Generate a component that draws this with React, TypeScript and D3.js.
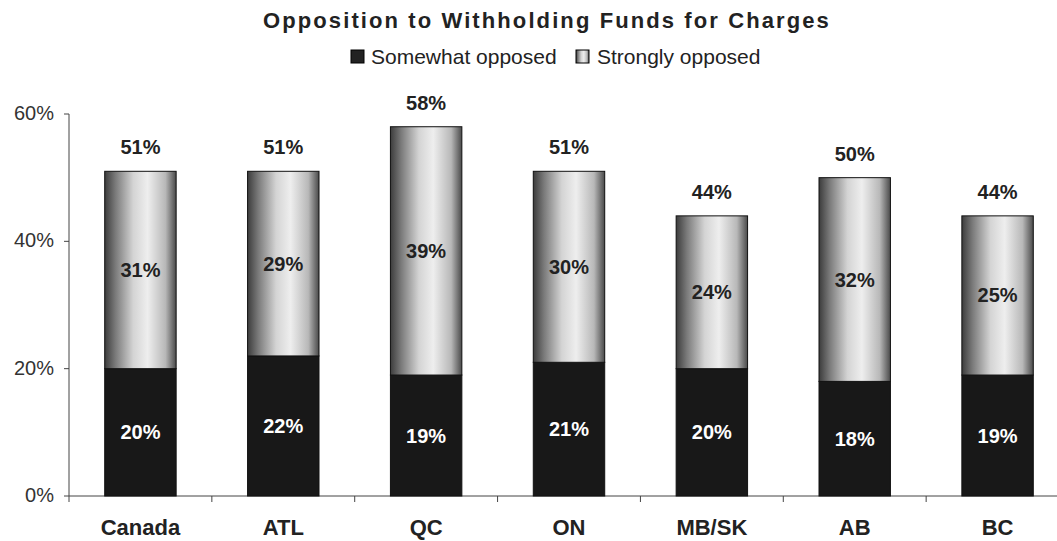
import { scaleBand, scaleLinear, stack } from "d3";

const width = 1057;
const height = 541;

const regions = ["Canada", "ATL", "QC", "ON", "MB/SK", "AB", "BC"];
const somewhat = [20, 22, 19, 21, 20, 18, 19];
const strongly = [31, 29, 39, 30, 24, 32, 25];
const yTicks = [0, 20, 40, 60];
const seriesNames = ["Somewhat opposed", "Strongly opposed"];

const margin = { left: 69, top: 114, bottom: 45 };

export default function App() {
  const rows = regions.map((r, i) => ({ region: r, somewhat: somewhat[i], strongly: strongly[i] }));
  const layers = stack<any>().keys(["somewhat", "strongly"])(rows);

  const xScale = scaleBand()
    .domain(regions)
    .range([margin.left, margin.left + 1000])
    .paddingInner(0.5)
    .paddingOuter(0.25);

  const yScale = scaleLinear()
    .domain([0, 60])
    .range([height - margin.bottom, margin.top]);

  const y0 = yScale(0);
  const bw = xScale.bandwidth();
  const step = xScale.step();

  return (
    <svg width={width} height={height} style={{ position: "absolute", left: 0, top: 0, background: "#fff" }}
      fontFamily="Arial, 'Liberation Sans', sans-serif">
      <defs>
        <linearGradient id="lightGrad" x1="0" x2="1" y1="0" y2="0">
          <stop offset="0%" stopColor="#3c3c3c" />
          <stop offset="15%" stopColor="#7a7a7a" />
          <stop offset="40%" stopColor="#d4d4d4" />
          <stop offset="60%" stopColor="#eeeeee" />
          <stop offset="85%" stopColor="#b8b8b8" />
          <stop offset="100%" stopColor="#4a4a4a" />
        </linearGradient>
      </defs>

      {/* title + legend */}
      <text x={263} y={28} fontSize={22} fontWeight="bold" letterSpacing={2.1} fill="#222">
        Opposition to Withholding Funds for Charges
      </text>
      <rect x={351} y={50} width={13} height={13} fill="#222" stroke="#000" />
      <text x={371} y={64} fontSize={21} fill="#222">{seriesNames[0]}</text>
      <rect x={576} y={50} width={13} height={13} fill="url(#lightGrad)" stroke="#000" />
      <text x={597} y={64} fontSize={21} fill="#222">{seriesNames[1]}</text>

      {/* axes */}
      <line x1={margin.left} x2={margin.left} y1={yScale(60)} y2={y0} stroke="#444" />
      <line x1={margin.left} x2={width} y1={y0} y2={y0} stroke="#444" />
      {yTicks.map((t) => (
        <g key={t}>
          <line x1={margin.left - 5} x2={margin.left} y1={yScale(t)} y2={yScale(t)} stroke="#444" />
          <text x={54} y={yScale(t) + 6} textAnchor="end" fontSize={20} fill="#333">{t}%</text>
        </g>
      ))}
      {regions.map((r, i) => (
        <line key={r} x1={margin.left + step * i} x2={margin.left + step * i} y1={y0} y2={y0 + 6} stroke="#444" />
      ))}
      {regions.map((r) => (
        <text key={r} x={(xScale(r) as number) + bw / 2} y={535} textAnchor="middle" fontSize={22} fontWeight="bold" fill="#222">
          {r}
        </text>
      ))}

      {/* bars */}
      {layers.map((layer, li) => (
        <g key={layer.key}>
          {layer.map((d, i) => {
            const x = xScale(regions[i]) as number;
            const top = yScale(d[1]);
            const bot = yScale(d[0]);
            return (
              <g key={regions[i]}>
                <rect x={x} y={top} width={bw} height={bot - top}
                  fill={li === 0 ? "#181818" : "url(#lightGrad)"} stroke="#111" strokeWidth={1} />
                <text x={x + bw / 2} y={(top + bot) / 2 + 7} textAnchor="middle" fontSize={20} fontWeight="bold"
                  fill={li === 0 ? "#fff" : "#222"}>
                  {d[1] - d[0]}%
                </text>
              </g>
            );
          })}
        </g>
      ))}

      {/* totals */}
      {rows.map((d) => {
        const total = d.somewhat + d.strongly;
        return (
          <text key={d.region} x={(xScale(d.region) as number) + bw / 2} y={yScale(total) - 17}
            textAnchor="middle" fontSize={20} fontWeight="bold" fill="#222">
            {total}%
          </text>
        );
      })}
    </svg>
  );
}
